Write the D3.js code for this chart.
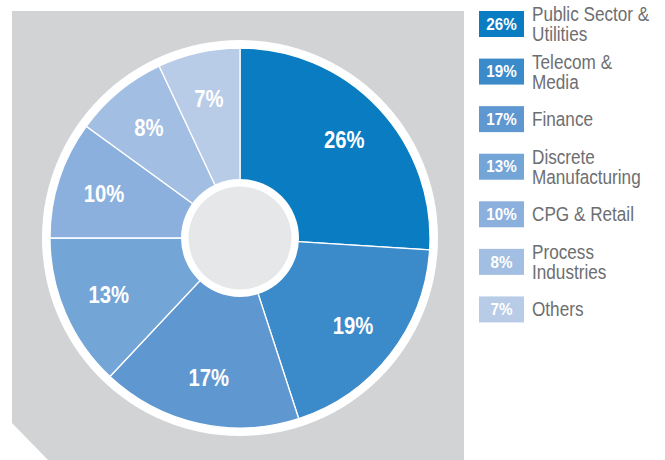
<!DOCTYPE html>
<html>
<head>
<meta charset="utf-8">
<script src="https://cdn.jsdelivr.net/npm/d3@7"></script>
<style>
  body { margin: 0; background: #fff; }
  svg { display: block; }
  .lbl { font-family: "Liberation Sans", Arial, Helvetica, sans-serif; }
</style>
</head>
<body>
<svg id="chart" width="665" height="460"></svg>
<script>
// segment data, clockwise from 12 o'clock
let categories = ['Public Sector & Utilities', 'Telecom & Media', 'Finance',
  'Discrete Manufacturing', 'CPG & Retail', 'Process Industries', 'Others'];
let legendLines = [['Public Sector &', 'Utilities'], ['Telecom &', 'Media'], ['Finance'],
  ['Discrete', 'Manufacturing'], ['CPG & Retail'], ['Process', 'Industries'], ['Others']];
let shares = [26, 19, 17, 13, 10, 8, 7];
let colors = ['#0a7cc2', '#3b8bcb', '#5f97d0', '#73a5d6', '#8cb0dd', '#a2bee3', '#b8cce8'];

let svg = d3.select('#chart');
let cx = 240, cy = 238;
let squeeze = 0.88; // fake a condensed face

// gray panel with clipped bottom-left corner
svg.append('path')
  .attr('d', 'M12,11 L464,11 L464,460 L48,460 L12,423 Z')
  .attr('fill', '#d1d3d4');

// white outer ring
svg.append('circle')
  .attr('cx', cx).attr('cy', cy).attr('r', 198)
  .attr('fill', '#fff');

let pie = d3.pie().sort(null).value(function(d){ return d; });
let arcs = pie(shares);

let arc = d3.arc().innerRadius(0).outerRadius(190);
let labelArc = d3.arc().innerRadius(143).outerRadius(143);

let g = svg.append('g').attr('transform', 'translate(' + cx + ',' + cy + ')');

g.selectAll('path.slice')
  .data(arcs)
  .enter().append('path')
    .attr('class', 'slice')
    .attr('d', arc)
    .attr('fill', function(d, i){ return colors[i]; })
    .attr('stroke', '#fff')
    .attr('stroke-width', 1.3);

// hole
g.append('circle').attr('r', 59).attr('fill', '#fff');
g.append('circle').attr('r', 51.5).attr('fill', '#e6e7e8');

g.selectAll('g.pct')
  .data(arcs)
  .enter().append('g')
    .attr('class', 'pct')
    .attr('transform', function(d){
      let c = labelArc.centroid(d);
      return 'translate(' + c[0] + ',' + c[1] + ') scale(' + squeeze + ',1)';
    })
  .append('text')
    .attr('class', 'lbl')
    .attr('dy', '0.36em')
    .attr('text-anchor', 'middle')
    .attr('fill', '#fff')
    .attr('font-weight', 'bold')
    .attr('font-size', 23)
    .text(function(d){ return d.data + '%'; });

// legend
let y = d3.scaleBand()
  .domain(categories)
  .range([11, 344])
  .paddingInner(0);

let leg = svg.append('g').attr('class', 'legend');
let item = leg.selectAll('g')
  .data(categories)
  .enter().append('g')
    .attr('transform', function(d){ return 'translate(479,' + y(d) + ')'; });

item.append('rect')
  .attr('width', 45).attr('height', 26)
  .attr('fill', function(d, i){ return colors[i]; });

item.append('text')
  .attr('class', 'lbl')
  .attr('transform', 'translate(22.5,13) scale(0.95,1)')
  .attr('dy', '0.36em')
  .attr('text-anchor', 'middle')
  .attr('fill', '#fff')
  .attr('font-weight', 'bold')
  .attr('font-size', 16)
  .text(function(d, i){ return shares[i] + '%'; });

item.append('g')
  .attr('transform', 'translate(53,13) scale(' + squeeze + ',1)')
  .append('text')
  .attr('class', 'lbl')
  .attr('fill', '#6d6e71')
  .attr('font-size', 19.5)
  .each(function(d, i){
    let lines = legendLines[i];
    let t = d3.select(this);
    lines.forEach(function(s, k){
      t.append('tspan')
        .attr('x', 0)
        .attr('y', (k - (lines.length - 1) / 2) * 20)
        .attr('dy', '0.36em')
        .text(s);
    });
  });
</script>
</body>
</html>
